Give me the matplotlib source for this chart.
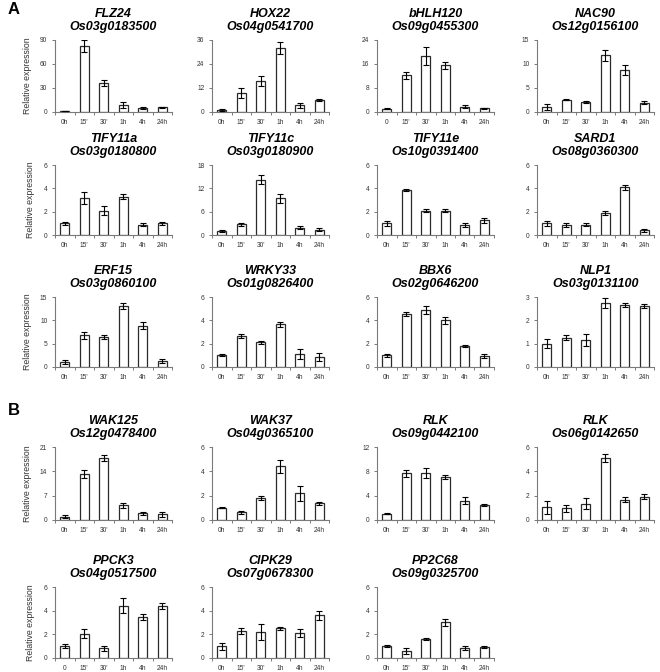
import matplotlib
matplotlib.use("Agg")
import matplotlib.pyplot as plt
import numpy as np

plt.rcParams['font.family'] = ['Liberation Sans', 'DejaVu Sans']

labels_h = ["0h", "15'", "30'", "1h", "4h", "24h"]
labels_0 = ["0", "15'", "30'", "1h", "4h", "24h"]

genes = ["FLZ24", "HOX22", "bHLH120", "NAC90",
         "TIFY11a", "TIFY11c", "TIFY11e", "SARD1",
         "ERF15", "WRKY33", "BBX6", "NLP1",
         "WAK125", "WAK37", "RLK", "RLK",
         "PPCK3", "CIPK29", "PP2C68"]
ids = ["Os03g0183500", "Os04g0541700", "Os09g0455300", "Os12g0156100",
       "Os03g0180800", "Os03g0180900", "Os10g0391400", "Os08g0360300",
       "Os03g0860100", "Os01g0826400", "Os02g0646200", "Os03g0131100",
       "Os12g0478400", "Os04g0365100", "Os09g0442100", "Os06g0142650",
       "Os04g0517500", "Os07g0678300", "Os09g0325700"]

means = [
    [1.0, 82, 36, 8.5, 5, 6],
    [1.0, 9.5, 15.5, 32, 3.3, 6],
    [1.1, 12.2, 18.7, 15.6, 1.7, 1.2],
    [1.0, 2.6, 2.1, 11.8, 8.7, 1.9],
    [1.0, 3.15, 2.1, 3.3, 0.9, 1.0],
    [1.0, 2.8, 14.2, 9.4, 1.9, 1.4],
    [1.0, 3.85, 2.1, 2.1, 0.85, 1.25],
    [1.0, 0.85, 0.9, 1.9, 4.1, 0.4],
    [1.0, 6.8, 6.4, 13.1, 8.85, 1.3],
    [1.05, 2.65, 2.1, 3.65, 1.1, 0.85],
    [1.0, 4.55, 4.9, 4.0, 1.8, 0.95],
    [1.0, 1.25, 1.15, 2.75, 2.66, 2.6],
    [1.0, 13.3, 17.9, 4.2, 1.9, 1.6],
    [1.0, 0.63, 1.83, 4.4, 2.2, 1.36],
    [1.0, 7.7, 7.7, 7.1, 3.2, 2.5],
    [1.03, 0.95, 1.35, 5.1, 1.68, 1.93],
    [1.02, 2.07, 0.82, 4.43, 3.5, 4.4],
    [1.0, 2.3, 2.2, 2.5, 2.14, 3.6],
    [1.0, 0.63, 1.62, 3.03, 0.88, 0.92],
]
errs = [
    [0.3, 7.5, 3.5, 4, 1, 0.5],
    [0.3, 2.5, 2.3, 2.8, 1.2, 0.7],
    [0.2, 1.2, 2.9, 1.2, 0.5, 0.2],
    [0.65, 0.2, 0.2, 1.1, 1.0, 0.3],
    [0.15, 0.5, 0.35, 0.25, 0.15, 0.15],
    [0.2, 0.4, 1.2, 1.2, 0.4, 0.4],
    [0.2, 0.1, 0.12, 0.15, 0.15, 0.18],
    [0.2, 0.2, 0.13, 0.2, 0.2, 0.12],
    [0.4, 0.7, 0.4, 0.6, 0.8, 0.4],
    [0.1, 0.2, 0.1, 0.22, 0.4, 0.35],
    [0.15, 0.15, 0.35, 0.3, 0.08, 0.17],
    [0.2, 0.1, 0.27, 0.2, 0.08, 0.08],
    [0.4, 1.1, 0.9, 0.7, 0.4, 0.6],
    [0.05, 0.12, 0.15, 0.5, 0.6, 0.1],
    [0.08, 0.6, 0.8, 0.35, 0.5, 0.2],
    [0.55, 0.3, 0.45, 0.35, 0.17, 0.17],
    [0.15, 0.38, 0.23, 0.65, 0.25, 0.22],
    [0.3, 0.25, 0.65, 0.1, 0.35, 0.4],
    [0.08, 0.25, 0.08, 0.3, 0.17, 0.07],
]
ymax = [90, 36, 24, 15, 6, 18, 6, 6, 15, 6, 6, 3, 21, 6, 12, 6, 6, 6, 6]
xlabel_sets = [labels_h, labels_h, labels_0, labels_h] + [labels_h] * 12 + [labels_0, labels_h, labels_h]

W, H = 660, 672
fig = plt.figure(figsize=(W / 100, H / 100), dpi=100)

col_x = [55, 212, 377, 537]
ax_w = 117
rows = [(40, 112), (165, 235), (297, 367), (447, 520), (587, 658)]

positions = []
for r in range(5):
    ncols = 3 if r == 4 else 4
    for c in range(ncols):
        positions.append((r, c))

spine_col = '#7a7a7a'
for i, (r, c) in enumerate(positions):
    top, bot = rows[r]
    ax = fig.add_axes([col_x[c] / W, 1 - bot / H, ax_w / W, (bot - top) / H])
    x = np.arange(6)
    ax.bar(x, means[i], width=0.46, color='white', edgecolor='#2a2a2a', linewidth=0.9, zorder=2)
    ax.errorbar(x, means[i], yerr=errs[i], fmt='none', ecolor='black', elinewidth=0.8,
                capsize=2.2, capthick=0.8, zorder=3)
    ax.set_xlim(-0.5, 5.5)
    ax.set_ylim(0, ymax[i])
    ax.set_yticks(np.linspace(0, ymax[i], 4))
    ax.set_yticklabels([f"{v:g}" for v in np.linspace(0, ymax[i], 4)])
    ax.set_xticks(x)
    ax.set_xticklabels(xlabel_sets[i])
    ax.set_xticks(np.arange(-0.5, 6.0, 1.0), minor=True)
    ax.tick_params(axis='x', which='major', length=0, labelsize=4.8, colors='#333333', pad=5)
    ax.tick_params(axis='x', which='minor', length=2.5, width=0.7, color=spine_col, direction='out')
    ax.tick_params(axis='y', which='major', length=2.5, width=0.7, color=spine_col,
                   labelsize=4.8, labelcolor='#333333', pad=3)
    for s in ['top', 'right']:
        ax.spines[s].set_visible(False)
    for s in ['left', 'bottom']:
        ax.spines[s].set_color(spine_col)
        ax.spines[s].set_linewidth(0.8)
    ax.set_title(genes[i] + "\n" + ids[i], fontsize=9, fontweight='bold', style='italic',
                 linespacing=1.15, pad=7, color='black')
    if c == 0:
        ax.set_ylabel("Relative expression", fontsize=6.3, color='#333333', labelpad=6)

fig.text(8 / W, 1 - 10 / H, "A", fontsize=12, fontweight='bold', va='center', ha='left')
fig.text(8 / W, 1 - 410 / H, "B", fontsize=12, fontweight='bold', va='center', ha='left')

fig.savefig("out.png", dpi=100)
